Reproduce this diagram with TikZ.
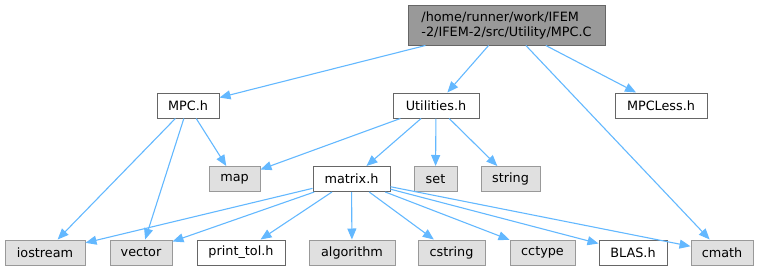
\documentclass[tikz,border=0pt]{standalone}
\usepackage{fontspec}
\setmainfont{DejaVu Sans}
\usetikzlibrary{arrows.meta}
\definecolor{edgeblue}{HTML}{63B8FF}
\tikzset{
  filebox/.style={draw=black!60,line width=1pt,fill=white,inner sep=0pt,minimum height=25,font=\fontsize{12.8}{15}\selectfont},
  sysbox/.style={filebox,draw=black!40,fill=black!12},
  srcbox/.style={filebox,fill=black!40,align=left},
  inc/.style={draw=edgeblue,line width=1.1pt,-{Triangle[length=11pt,width=9pt]}}
}
\begin{document}
\begin{tikzpicture}[x=1pt,y=-1pt]
\useasboundingbox (0,0) rectangle (759,271);
\node[srcbox,minimum width=197,minimum height=40] (mpcc) at (506.5,25) {/home/runner/work/IFEM\\-2/IFEM-2/src/Utility/MPC.C};
\node[filebox,minimum width=62] (mpch) at (188,105.5) {MPC.h};
\node[filebox,minimum width=86] (util) at (436,105.5) {Utilities.h};
\node[filebox,minimum width=92] (mpcless) at (661,105.5) {MPCLess.h};
\node[sysbox,minimum width=51] (map) at (234.5,179) {map};
\node[filebox,minimum width=77] (matrix) at (351.5,179) {matrix.h};
\node[sysbox,minimum width=43] (set) at (435.5,179) {set};
\node[sysbox,minimum width=59] (string) at (510.5,179) {string};
\node[sysbox,minimum width=80] (iostream) at (45,252.5) {iostream};
\node[sysbox,minimum width=62] (vector) at (141,252.5) {vector};
\node[filebox,minimum width=88] (printtol) at (241,252.5) {print\_tol.h};
\node[sysbox,minimum width=86] (algorithm) at (352,252.5) {algorithm};
\node[sysbox,minimum width=67] (cstring) at (451.5,252.5) {cstring};
\node[sysbox,minimum width=65] (cctype) at (542.5,252.5) {cctype};
\node[filebox,minimum width=68] (blas) at (633,252.5) {BLAS.h};
\node[sysbox,minimum width=62] (cmath) at (722,252.5) {cmath};
% includes of MPC.C
\draw[inc] (mpcc) -- (mpch);
\draw[inc] (mpcc) -- (util);
\draw[inc] (mpcc) -- (cmath);
\draw[inc] (mpcc) -- (mpcless);
% MPC.h
\draw[inc] (mpch) -- (iostream);
\draw[inc] (mpch) -- (vector);
\draw[inc] (mpch) -- (map);
% Utilities.h
\draw[inc] (util) -- (map);
\draw[inc] (util) -- (matrix);
\draw[inc] (util) -- (set);
\draw[inc] (util) -- (string);
% matrix.h
\draw[inc] (matrix) -- (iostream);
\draw[inc] (matrix) -- (vector);
\draw[inc] (matrix) -- (printtol);
\draw[inc] (matrix) -- (algorithm);
\draw[inc] (matrix) -- (cstring);
\draw[inc] (matrix) -- (cctype);
\draw[inc] (matrix) -- (blas);
\draw[inc] (matrix) -- (cmath);
\end{tikzpicture}
\end{document}
